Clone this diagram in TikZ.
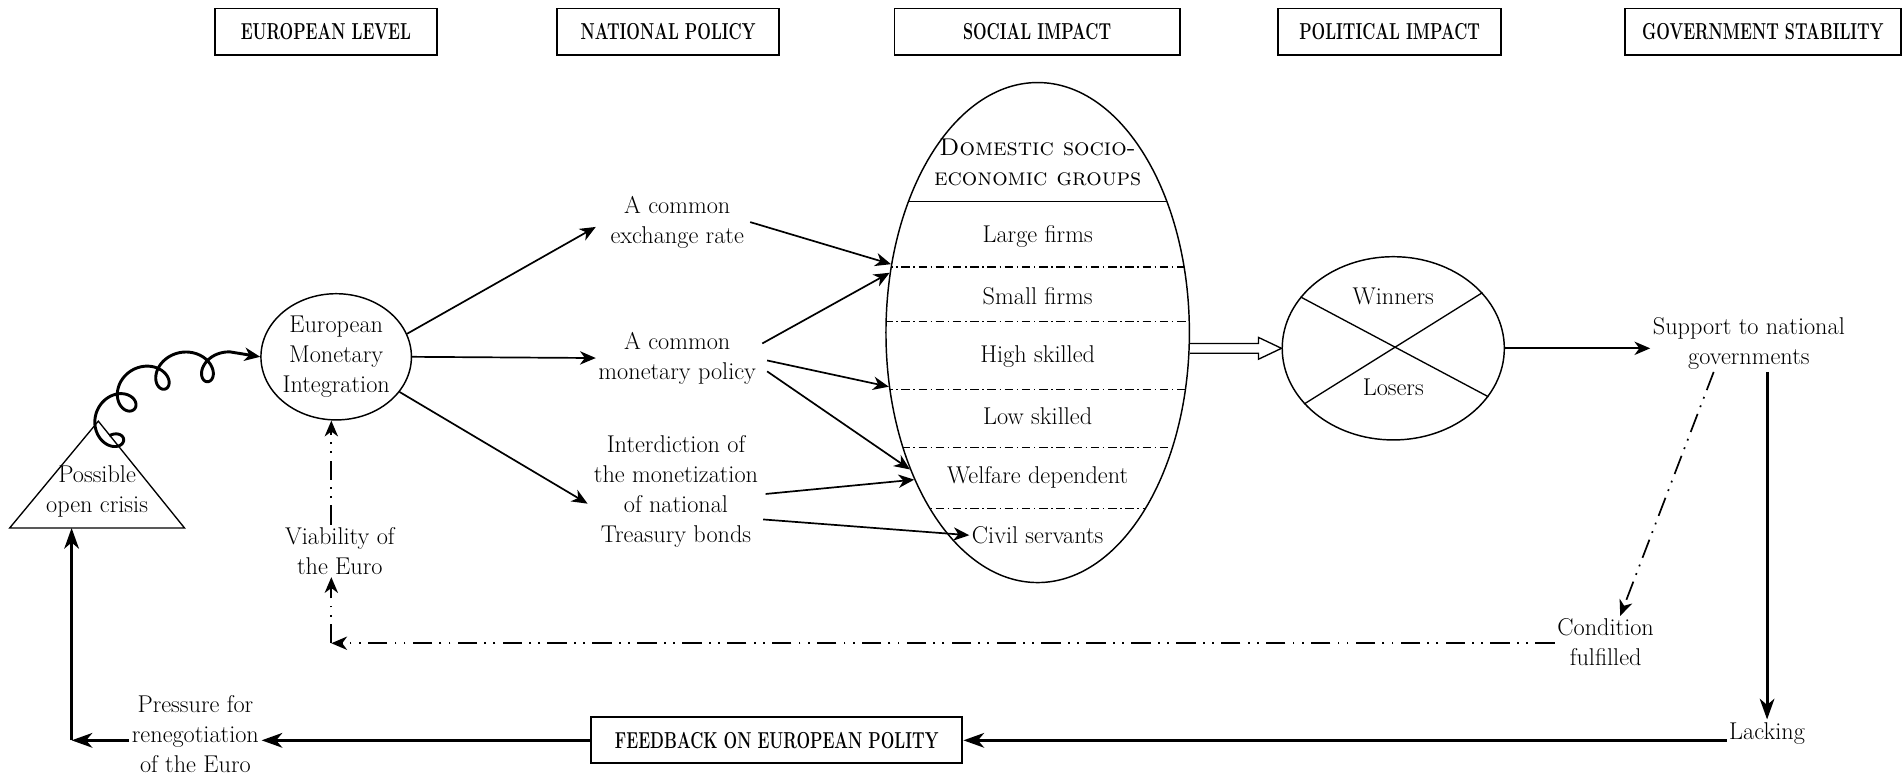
\documentclass[tikz,border=0pt]{standalone}
\usetikzlibrary{arrows.meta,shapes.geometric,calc}
\begin{document}
\begin{tikzpicture}[x=1pt,y=-1pt,
  txt/.style={align=center, font=\fontsize{20}{24.5}\selectfont, inner sep=2pt},
  hdr/.style={draw, line width=1.6pt, minimum height=38pt, inner sep=0pt, font=\fontsize{19}{20}\selectfont\bfseries},
  ell/.style={draw, ellipse, line width=1.2pt, inner sep=0pt},
  arr/.style={line width=1.4pt, -{Stealth[length=13pt,width=11pt,inset=4pt]}},
  tarr/.style={line width=2.6pt, -{Stealth[length=17pt,width=12pt,inset=5pt]}},
  ddot/.style={line width=1.4pt, dash pattern=on 16pt off 6pt on 1.5pt off 6pt on 1.5pt off 6pt},
  ddiv/.style={line width=1pt, dash pattern=on 7pt off 3pt on 1.2pt off 3pt},
]
\useasboundingbox (0,0) rectangle (1568,640);

% headers
\node[hdr, minimum width=183pt] (h1) at (268.5,26) {\scalebox{0.7}[1]{EUROPEAN LEVEL}};
\node[hdr, minimum width=183pt] (h2) at (550.5,26) {\scalebox{0.7}[1]{NATIONAL POLICY}};
\node[hdr, minimum width=235pt] (h3) at (854.5,26) {\scalebox{0.7}[1]{SOCIAL IMPACT}};
\node[hdr, minimum width=184pt] (h4) at (1145,26) {\scalebox{0.7}[1]{POLITICAL IMPACT}};
\node[hdr, minimum width=227pt] (h5) at (1452.5,26) {\scalebox{0.7}[1]{GOVERNMENT STABILITY}};

% European level
\node[ell, minimum width=124pt, minimum height=104pt] (emi) at (277,294) {};
\node[txt] (emit) at (emi) {European\\Monetary\\Integration};
\draw[line width=1.1pt] (8,435) -- (81,347) -- (152,435) -- cycle;
\coordinate (apex) at (90,359);
\coordinate (tribase) at (59,435);
\node[txt] (crisis) at (80,405) {Possible\\open crisis};
\node[txt] (via) at (280,454) {Viability of\\the Euro};
\coordinate (vcorner) at (273,530);
\node[txt] (press) at (161,605) {Pressure for\\renegotiation\\of the Euro};
\coordinate (pcorner) at (59,610);

% national policy
\node[txt] (xr) at (558,183) {A common\\exchange rate};
\node[txt] (mp) at (558,295) {A common\\monetary policy};
\node[txt] (int) at (557,405) {Interdiction of\\the monetization\\of national\\Treasury bonds};

% social impact
\node[ell, minimum width=250pt, minimum height=412pt] (soc) at (855,274) {};
\begin{scope}
  \clip (855,274) ellipse [x radius=125pt, y radius=206pt];
  \draw[line width=1.1pt] (700,166) -- (1000,166);
  \draw[ddiv] (700,220) -- (1000,220);
  \draw[ddiv] (700,265) -- (1000,265);
  \draw[ddiv] (700,321) -- (1000,321);
  \draw[ddiv] (700,369) -- (1000,369);
  \draw[ddiv] (700,419) -- (1000,419);
\end{scope}
\node[txt] (dom) at (855,134) {\textsc{Domestic socio-}\\\textsc{economic groups}};
\node[txt] (lf) at (855,195) {Large firms};
\node[txt] (sf) at (855,244) {Small firms};
\node[txt] (hs) at (855,294) {High skilled};
\node[txt] (ls) at (855,343) {Low skilled};
\node[txt] (wd) at (855,393) {Welfare dependent};
\node[txt] (civ) at (855,441) {Civil servants};

% political impact
\node[ell, minimum width=183pt, minimum height=151pt] (wl) at (1148,287) {};
\draw[line width=1.1pt] (wl.151.5) -- (wl.-27);
\draw[line width=1.1pt] (wl.212) -- (wl.32.8);
\node[txt] (win) at (1148,244) {Winners};
\node[txt] (los) at (1148,319) {Losers};

% government stability
\node[txt] (sup) at (1441,283) {Support to national\\governments};
\node[txt] (cond) at (1323,529) {Condition\\fulfilled};
\node[txt] (lack) at (1456,604) {Lacking};
\node[hdr, minimum width=306pt] (fb) at (640,610) {\scalebox{0.7}[1]{FEEDBACK ON EUROPEAN POLITY}};

% coil connector (crisis -> EMI)
\draw[line width=2.4pt, line join=round, -{Stealth[length=13pt,width=11pt,inset=4pt]}]
  plot[domain=0:1, samples=360, variable=\t]
  ({(1-\t)^3*90 + 3*(1-\t)^2*\t*80 + 3*(1-\t)*\t^2*140 + \t^3*190 + 13*sin(1440*\t)},
   {(1-\t)^3*359 + 3*(1-\t)^2*\t*307 + 3*(1-\t)*\t^2*282 + \t^3*290 + 13*(1-cos(1440*\t))})
  -- (emi.west);

\draw[arr] (emi.18) -- ($(xr.west)+(-10,4)$);
\draw[arr] (emi.east) -- (mp.west);
\draw[arr] (emi.-29) -- ($(int.west)+(-3,10)$);

\draw[arr] ($(xr.east)+(3,0)$) -- (soc.155.4);
\draw[arr] ($(mp.east)+(3,-12)$) -- (soc.158.6);
\draw[arr] ($(mp.east)+(7,2)$) -- (soc.200.9);
\draw[arr] ($(mp.east)+(7,11)$) -- (soc.227.9);
\draw[arr] ($(int.east)+(4,2)$) -- (soc.230.8);
\draw[arr] ($(int.east)+(2,23)$) -- (civ.west);

\coordinate (da) at (soc.east |- wl.west);
\draw[line width=1.1pt] ($(da)+(0,-4)$) -- ($(wl.west)+(-19,-4)$) -- ($(wl.west)+(-19,-9)$) -- (wl.west)
  -- ($(wl.west)+(-19,9)$) -- ($(wl.west)+(-19,4)$) -- ($(da)+(0,4)$);

\draw[arr] (wl.east) -- (wl.east -| sup.west);
\draw[tarr] (lack.north |- sup.south) -- (lack.north);
\draw[ddot, -{Stealth[length=13pt,width=11pt,inset=4pt]}] ($(sup.south)+(-29,0)$) -- ($(cond.north)+(12,0)$);
\draw[ddot, -{Stealth[length=13pt,width=11pt,inset=4pt]}] (cond.west |- vcorner) -- (vcorner);
\draw[ddot, -{Stealth[length=13pt,width=11pt,inset=4pt]}] (vcorner) -- (vcorner |- via.south);
\draw[ddot, -{Stealth[length=13pt,width=11pt,inset=4pt]}] (vcorner |- via.north) -- (vcorner |- emi.south);

\draw[tarr] (lack.west |- fb.east) -- (fb.east);
\draw[tarr] (fb.west) -- (fb.west -| press.east);
\draw[tarr] (press.west |- pcorner) -- (pcorner);
\draw[tarr] (pcorner) -- (tribase);
\end{tikzpicture}
\end{document}
